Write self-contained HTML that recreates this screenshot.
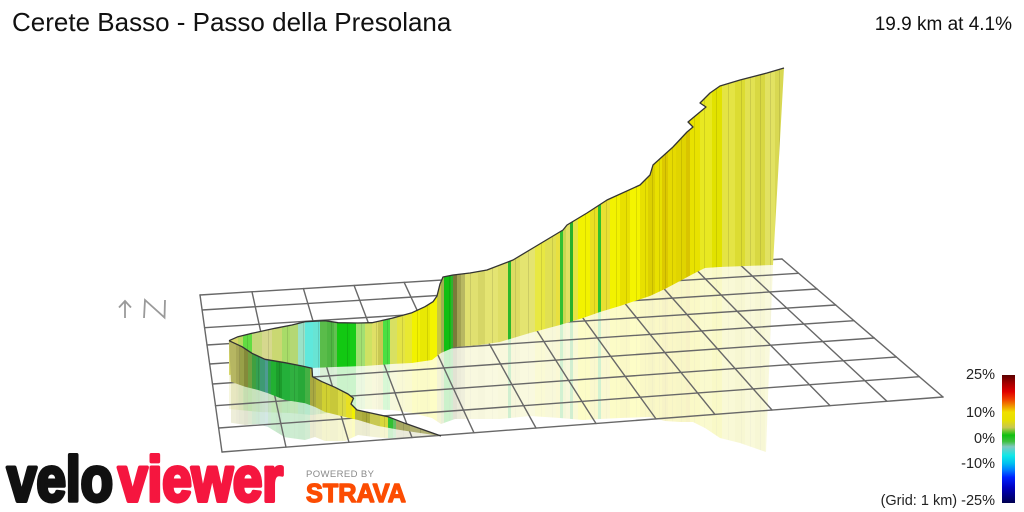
<!DOCTYPE html>
<html>
<head>
<meta charset="utf-8">
<style>
html,body{margin:0;padding:0;background:#fff;}
body{width:1024px;height:512px;overflow:hidden;position:relative;}
svg{position:absolute;left:0;top:0;}
</style>
</head>
<body>
<svg width="1024" height="512" viewBox="0 0 1024 512" xmlns="http://www.w3.org/2000/svg">
<defs>
  <linearGradient id="legend" x1="0" y1="0" x2="0" y2="1">
    <stop offset="0" stop-color="#5a0000"/>
    <stop offset="0.06" stop-color="#a00000"/>
    <stop offset="0.13" stop-color="#e00000"/>
    <stop offset="0.19" stop-color="#f04000"/>
    <stop offset="0.25" stop-color="#f0a000"/>
    <stop offset="0.29" stop-color="#f0e000"/>
    <stop offset="0.35" stop-color="#e8e000"/>
    <stop offset="0.41" stop-color="#c8c850"/>
    <stop offset="0.47" stop-color="#10c010"/>
    <stop offset="0.52" stop-color="#40c040"/>
    <stop offset="0.56" stop-color="#80c8c0"/>
    <stop offset="0.63" stop-color="#10e8e8"/>
    <stop offset="0.69" stop-color="#00c0f0"/>
    <stop offset="0.74" stop-color="#0080ff"/>
    <stop offset="0.80" stop-color="#0020ff"/>
    <stop offset="0.88" stop-color="#0000c0"/>
    <stop offset="1" stop-color="#000050"/>
  </linearGradient>

  <g id="sB">
    <rect x="229" y="40" width="9" height="440" fill="#d6d66a"/>
    <rect x="238" y="40" width="5" height="440" fill="#b8d860"/>
    <rect x="243" y="40" width="9" height="440" fill="#62dc42"/>
    <rect x="252" y="40" width="10" height="440" fill="#c4d87a"/>
    <rect x="262" y="40" width="10" height="440" fill="#d6d88e"/>
    <rect x="272" y="40" width="10" height="440" fill="#cad872"/>
    <rect x="282" y="40" width="8" height="440" fill="#a8dc68"/>
    <rect x="290" y="40" width="8" height="440" fill="#b4d874"/>
    <rect x="298" y="40" width="7" height="440" fill="#9ae2c8"/>
    <rect x="305" y="40" width="8" height="440" fill="#60e8dc"/>
    <rect x="313" y="40" width="7" height="440" fill="#68e4d4"/>
    <rect x="320" y="40" width="7" height="440" fill="#5abc4a"/>
    <rect x="327" y="40" width="7" height="440" fill="#4eb642"/>
    <rect x="334" y="40" width="3" height="440" fill="#62c052"/>
    <rect x="337" y="40" width="13" height="440" fill="#12c812"/>
    <rect x="350" y="40" width="6" height="440" fill="#18cc18"/>
    <rect x="356" y="40" width="9" height="440" fill="#a2e072"/>
    <rect x="365" y="40" width="7" height="440" fill="#cee262"/>
    <rect x="372" y="40" width="6" height="440" fill="#e0e066"/>
    <rect x="378" y="40" width="5" height="440" fill="#c8c852"/>
    <rect x="383" y="40" width="7" height="440" fill="#4ae042"/>
    <rect x="390" y="40" width="7" height="440" fill="#d8e062"/>
    <rect x="397" y="40" width="8" height="440" fill="#e4e444"/>
    <rect x="405" y="40" width="7" height="440" fill="#e8e832"/>
    <rect x="412" y="40" width="8" height="440" fill="#f2f200"/>
    <rect x="420" y="40" width="10" height="440" fill="#e8e804"/>
    <rect x="430" y="40" width="7" height="440" fill="#f4f400"/>
    <rect x="437" y="40" width="4" height="440" fill="#c8c842"/>
    <rect x="441" y="40" width="3" height="440" fill="#a0b050"/>
    <rect x="444" y="40" width="7" height="440" fill="#12c012"/>
    <rect x="451" y="40" width="2" height="440" fill="#30b030"/>
    <rect x="453" y="40" width="4" height="440" fill="#7a7a3a"/>
    <rect x="457" y="40" width="4" height="440" fill="#a2a252"/>
    <rect x="461" y="40" width="4" height="440" fill="#b8b862"/>
    <rect x="465" y="40" width="13" height="440" fill="#e0e070"/>
    <rect x="478" y="40" width="7" height="440" fill="#d6d666"/>
    <rect x="485" y="40" width="13" height="440" fill="#e4e472"/>
    <rect x="498" y="40" width="10" height="440" fill="#dede66"/>
    <rect x="508" y="40" width="3" height="440" fill="#2ab82a"/>
    <rect x="511" y="40" width="9" height="440" fill="#dcdc62"/>
    <rect x="520" y="40" width="15" height="440" fill="#e4e470"/>
    <rect x="535" y="40" width="10" height="440" fill="#e8e842"/>
    <rect x="545" y="40" width="11" height="440" fill="#e0e052"/>
    <rect x="556" y="40" width="4" height="440" fill="#e8e040"/>
    <rect x="560" y="40" width="3" height="440" fill="#32c032"/>
    <rect x="563" y="40" width="3" height="440" fill="#c8d852"/>
    <rect x="566" y="40" width="4" height="440" fill="#e0e062"/>
    <rect x="570" y="40" width="3" height="440" fill="#2ab02a"/>
    <rect x="573" y="40" width="5" height="440" fill="#e4e444"/>
    <rect x="578" y="40" width="12" height="440" fill="#f2f200"/>
    <rect x="590" y="40" width="8" height="440" fill="#e8e022"/>
    <rect x="598" y="40" width="3" height="440" fill="#2ec02e"/>
    <rect x="601" y="40" width="9" height="440" fill="#e8e032"/>
    <rect x="610" y="40" width="10" height="440" fill="#f2f200"/>
    <rect x="620" y="40" width="10" height="440" fill="#e8e000"/>
    <rect x="630" y="40" width="10" height="440" fill="#f4f400"/>
    <rect x="640" y="40" width="8" height="440" fill="#e8e000"/>
    <rect x="648" y="40" width="7" height="440" fill="#dcd000"/>
    <rect x="655" y="40" width="7" height="440" fill="#e8e000"/>
    <rect x="662" y="40" width="6" height="440" fill="#dcc800"/>
    <rect x="668" y="40" width="8" height="440" fill="#e6da00"/>
    <rect x="676" y="40" width="10" height="440" fill="#e0d400"/>
    <rect x="686" y="40" width="4" height="440" fill="#d8c400"/>
    <rect x="690" y="40" width="10" height="440" fill="#e8e200"/>
    <rect x="700" y="40" width="12" height="440" fill="#e8e822"/>
    <rect x="712" y="40" width="10" height="440" fill="#e2e200"/>
    <rect x="722" y="40" width="13" height="440" fill="#e4e444"/>
    <rect x="735" y="40" width="10" height="440" fill="#dcdc32"/>
    <rect x="745" y="40" width="10" height="440" fill="#e2e252"/>
    <rect x="755" y="40" width="10" height="440" fill="#d8d842"/>
    <rect x="765" y="40" width="10" height="440" fill="#e2e262"/>
    <rect x="775" y="40" width="10" height="440" fill="#d8d852"/>
    <g fill="#000" opacity="0.1">
      <rect x="247" y="40" width="1" height="440"/><rect x="268" y="40" width="1" height="440"/>
      <rect x="287" y="40" width="1" height="440"/><rect x="303" y="40" width="1" height="440"/>
      <rect x="318" y="40" width="1" height="440"/><rect x="331" y="40" width="1" height="440"/>
      <rect x="347" y="40" width="1" height="440"/><rect x="361" y="40" width="1" height="440"/>
      <rect x="376" y="40" width="1" height="440"/><rect x="387" y="40" width="1" height="440"/>
      <rect x="402" y="40" width="1" height="440"/><rect x="417" y="40" width="1" height="440"/>
      <rect x="427" y="40" width="1" height="440"/><rect x="449" y="40" width="1" height="440"/>
      <rect x="470" y="40" width="1" height="440"/><rect x="492" y="40" width="1" height="440"/>
      <rect x="515" y="40" width="1" height="440"/><rect x="528" y="40" width="1" height="440"/>
      <rect x="541" y="40" width="1" height="440"/><rect x="552" y="40" width="1" height="440"/>
      <rect x="585" y="40" width="1" height="440"/><rect x="594" y="40" width="1" height="440"/>
      <rect x="606" y="40" width="1" height="440"/><rect x="616" y="40" width="1" height="440"/>
      <rect x="626" y="40" width="1" height="440"/><rect x="636" y="40" width="1" height="440"/>
      <rect x="645" y="40" width="1" height="440"/><rect x="652" y="40" width="1" height="440"/>
      <rect x="659" y="40" width="1" height="440"/><rect x="665" y="40" width="1" height="440"/>
      <rect x="672" y="40" width="1" height="440"/><rect x="681" y="40" width="1" height="440"/>
      <rect x="694" y="40" width="1" height="440"/><rect x="704" y="40" width="1" height="440"/>
      <rect x="716" y="40" width="1" height="440"/><rect x="728" y="40" width="1" height="440"/>
      <rect x="741" y="40" width="1" height="440"/><rect x="750" y="40" width="1" height="440"/>
      <rect x="760" y="40" width="1" height="440"/><rect x="770" y="40" width="1" height="440"/>
      <rect x="779" y="40" width="1" height="440"/>
    </g>
  </g>

  <g id="sA">
    <rect x="228" y="300" width="8" height="160" fill="#b6b662"/>
    <rect x="236" y="300" width="4" height="160" fill="#a8a858"/>
    <rect x="240" y="300" width="4" height="160" fill="#98a048"/>
    <rect x="244" y="300" width="4" height="160" fill="#848a3a"/>
    <rect x="248" y="300" width="4" height="160" fill="#70a040"/>
    <rect x="252" y="300" width="4" height="160" fill="#40a040"/>
    <rect x="256" y="300" width="4" height="160" fill="#34a052"/>
    <rect x="260" y="300" width="5" height="160" fill="#3e9a74"/>
    <rect x="265" y="300" width="3" height="160" fill="#4e9a92"/>
    <rect x="268" y="300" width="3" height="160" fill="#30a050"/>
    <rect x="271" y="300" width="5" height="160" fill="#22b032"/>
    <rect x="276" y="300" width="6" height="160" fill="#1c9c2c"/>
    <rect x="282" y="300" width="8" height="160" fill="#24b03a"/>
    <rect x="290" y="300" width="8" height="160" fill="#30b040"/>
    <rect x="298" y="300" width="7" height="160" fill="#28a838"/>
    <rect x="305" y="300" width="5" height="160" fill="#44b044"/>
    <rect x="310" y="300" width="6" height="160" fill="#a8a842"/>
    <rect x="316" y="300" width="6" height="160" fill="#baba3a"/>
    <rect x="322" y="300" width="8" height="160" fill="#d0d032"/>
    <rect x="330" y="300" width="8" height="160" fill="#c8c83a"/>
    <rect x="338" y="300" width="8" height="160" fill="#dada42"/>
    <rect x="346" y="300" width="6" height="160" fill="#e8e022"/>
    <rect x="352" y="300" width="3" height="160" fill="#f2f200"/>
    <rect x="355" y="300" width="7" height="160" fill="#b2b242"/>
    <rect x="362" y="300" width="8" height="160" fill="#aaaa3a"/>
    <rect x="370" y="300" width="10" height="160" fill="#c8c852"/>
    <rect x="380" y="300" width="8" height="160" fill="#d8d83a"/>
    <rect x="388" y="300" width="5" height="160" fill="#32c032"/>
    <rect x="393" y="300" width="3" height="160" fill="#62c062"/>
    <rect x="396" y="300" width="14" height="160" fill="#a8a862"/>
    <rect x="410" y="300" width="32" height="160" fill="#b0b072"/>
    <g fill="#000" opacity="0.1">
      <rect x="239" y="300" width="1" height="160"/><rect x="258" y="300" width="1" height="160"/>
      <rect x="279" y="300" width="1" height="160"/><rect x="294" y="300" width="1" height="160"/>
      <rect x="313" y="300" width="1" height="160"/><rect x="326" y="300" width="1" height="160"/>
      <rect x="342" y="300" width="1" height="160"/><rect x="366" y="300" width="1" height="160"/>
      <rect x="384" y="300" width="1" height="160"/><rect x="403" y="300" width="1" height="160"/>
      <rect x="420" y="300" width="1" height="160"/>
    </g>
  </g>

  <clipPath id="cB">
    <polygon points="229,340.7 238,336.7 252,333.3 275,328.3 292,325 305,321.7 325,320.7 338,322.7 358,323 372,322.7 392,318.3 412,312.7 425,306.7 433,301.7 437,296 440,284 443,277 453,275 470,273 487,270 513,260 533,248 563,230 567,225 587,213 607,200 640,185 650,175 653,165 673,147 687,132 693,127 688,122 700,112 706,107 700,103 710,93 720,86 740,80 767,73 784,68 773,265 720,267 705,268 693,274 680,281 665,289 650,296 620,306 600,312 583,318 560,325 530,333 500,342 480,345 455,347 441,353 432,360 412,363 392,364 365,366 335,367 312,368 290,369 260,372 229,375"/>
  </clipPath>
  <clipPath id="rB">
    <polygon points="229,375 260,372 290,369 312,368 335,367 365,366 392,364 412,363 432,360 441,353 455,347 480,345 500,342 530,333 560,325 583,318 600,312 620,306 650,296 665,289 680,281 693,274 705,268 720,267 773,265 766,452 740,443 720,438 705,428 693,422 680,422 665,421 650,417 620,418 600,419 583,420 560,418 530,416 500,419 480,419 455,419 441,424 432,418 412,413 392,410 365,409 335,412 312,415 290,413 260,412 229,409"/>
  </clipPath>
  <clipPath id="cA">
    <polygon points="229,340.7 242,346.7 252,353.3 265,359.3 285,362.7 302,366 312,368.3 312.5,376.7 322,381.7 335,387.3 348,394 353.5,398.3 351,404 357,410 372,413.3 388,416.7 405,423.3 441,436 420,433 400,430 378,426 358,420 345,417 325,412 315,407 305,403.3 285,400 268,393.3 258,390 245,386.7 231,381.7"/>
  </clipPath>
  <clipPath id="rA">
    <polygon points="231,381.7 245,386.7 258,390 268,393.3 285,400 305,403.3 315,407 325,412 345,417 358,420 378,426 400,430 420,433 441,436 420,437.5 400,438.7 378,437.5 358,435 345,441 325,441 315,437 305,440 285,437.3 268,427 258,424 245,425 231,422.7"/>
  </clipPath>
</defs>

<!-- reflections -->
<g clip-path="url(#rB)" opacity="0.22"><use href="#sB"/></g>
<g clip-path="url(#rA)" opacity="0.24"><use href="#sA"/></g>

<!-- grid -->
<g stroke="#686868" stroke-width="1.4" fill="none" stroke-linecap="round">
  <line x1="200" y1="295" x2="222" y2="452"/>
  <line x1="252" y1="291.8" x2="286" y2="447.1"/>
  <line x1="303.4" y1="288.6" x2="349" y2="442.3"/>
  <line x1="354.1" y1="285.5" x2="412" y2="437.5"/>
  <line x1="404.2" y1="282.4" x2="474" y2="432.8"/>
  <line x1="453.6" y1="279.3" x2="536" y2="428"/>
  <line x1="502.4" y1="276.3" x2="596" y2="423.5"/>
  <line x1="550.6" y1="273.3" x2="656" y2="418.9"/>
  <line x1="598.2" y1="270.4" x2="715" y2="414.4"/>
  <line x1="645.1" y1="267.5" x2="772" y2="410"/>
  <line x1="691.3" y1="264.6" x2="830" y2="405.6"/>
  <line x1="737" y1="261.8" x2="887" y2="401.3"/>
  <line x1="782" y1="259" x2="943" y2="397"/>
  <line x1="200" y1="295" x2="782" y2="259"/>
  <line x1="202.1" y1="310" x2="798.3" y2="273.3"/>
  <line x1="204.6" y1="327.7" x2="817" y2="289"/>
  <line x1="207" y1="345" x2="835.7" y2="305"/>
  <line x1="209.7" y1="364" x2="854" y2="320.7"/>
  <line x1="212.5" y1="384" x2="874.2" y2="338"/>
  <line x1="215.5" y1="405.7" x2="896.3" y2="357"/>
  <line x1="218.7" y1="428" x2="919.3" y2="376.7"/>
  <line x1="222" y1="452" x2="943" y2="397"/>
</g>

<!-- walls -->
<g clip-path="url(#cB)"><use href="#sB"/></g>
<polyline fill="none" stroke="#333" stroke-width="1.3" stroke-linejoin="round" points="229,340.7 238,336.7 252,333.3 275,328.3 292,325 305,321.7 325,320.7 338,322.7 358,323 372,322.7 392,318.3 412,312.7 425,306.7 433,301.7 437,296 440,284 443,277 453,275 470,273 487,270 513,260 533,248 563,230 567,225 587,213 607,200 640,185 650,175 653,165 673,147 687,132 693,127 688,122 700,112 706,107 700,103 710,93 720,86 740,80 767,73 784,68"/>
<g clip-path="url(#cA)"><use href="#sA"/></g>
<polyline fill="none" stroke="#333" stroke-width="1.3" stroke-linejoin="round" points="229,340.7 242,346.7 252,353.3 265,359.3 285,362.7 302,366 312,368.3 312.5,376.7 322,381.7 335,387.3 348,394 353.5,398.3 351,404 357,410 372,413.3 388,416.7 405,423.3 441,436"/>

<!-- north arrow -->
<g stroke="#9a9a9a" stroke-width="1.8" fill="none" stroke-linejoin="miter">
  <line x1="125" y1="301" x2="125" y2="318"/>
  <polyline points="119,307.5 125,301 131,307.5"/>
  <polyline points="144,318 145,300 164.5,317.5 165,300"/>
</g>

<!-- titles -->
<text x="12" y="31" font-family="Liberation Sans, Arial, sans-serif" font-size="26" fill="#111">Cerete Basso - Passo della Presolana</text>
<text x="1012" y="30" text-anchor="end" font-family="Liberation Sans, Arial, sans-serif" font-size="19" fill="#111">19.9 km at 4.1%</text>

<!-- legend -->
<rect x="1002" y="375" width="13" height="128" fill="url(#legend)"/>
<g font-family="Liberation Sans, Arial, sans-serif" font-size="14.5" fill="#222" text-anchor="end">
  <text x="995" y="379">25%</text>
  <text x="995" y="417">10%</text>
  <text x="995" y="443">0%</text>
  <text x="995" y="468">-10%</text>
  <text x="995" y="505">(Grid: 1 km) -25%</text>
</g>

<!-- logos -->
<text x="7" y="501" font-family="Liberation Sans, Arial, sans-serif" font-weight="bold" font-size="63" fill="#111" stroke="#111" stroke-width="4" stroke-linejoin="round" textLength="106" lengthAdjust="spacingAndGlyphs">velo</text>
<text x="118" y="501" font-family="Liberation Sans, Arial, sans-serif" font-weight="bold" font-size="63" fill="#f5163f" stroke="#f5163f" stroke-width="4" stroke-linejoin="round" textLength="165" lengthAdjust="spacingAndGlyphs">viewer</text>
<text x="306" y="477" font-family="Liberation Sans, Arial, sans-serif" font-size="9.5" fill="#8a8a8a" textLength="68" lengthAdjust="spacing">POWERED BY</text>
<text x="306" y="502" font-family="Liberation Sans, Arial, sans-serif" font-weight="bold" font-size="26" fill="#fc4c02" stroke="#fc4c02" stroke-width="1.4" stroke-linejoin="round" textLength="100" lengthAdjust="spacingAndGlyphs">STRAVA</text>
</svg>
</body>
</html>
